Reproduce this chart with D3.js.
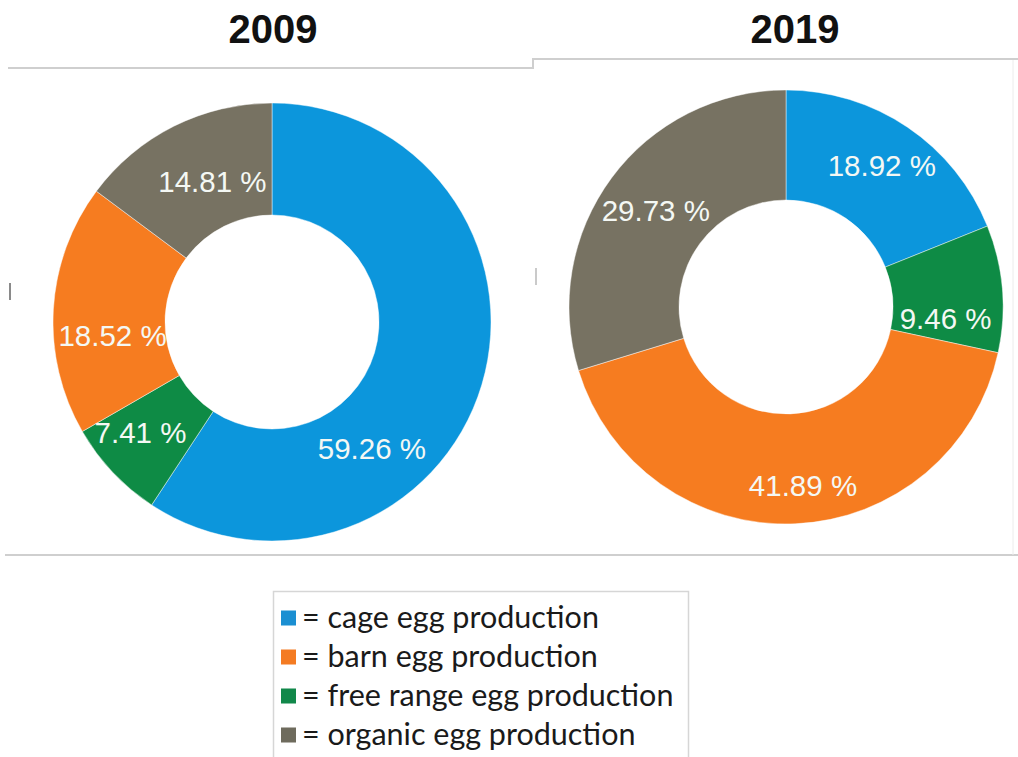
<!DOCTYPE html>
<html>
<head>
<meta charset="utf-8">
<script src="https://cdn.jsdelivr.net/npm/d3@7/dist/d3.min.js"></script>
<style>
  html, body { margin: 0; padding: 0; background: #ffffff; }
  svg { display: block; }
</style>
</head>
<body>
<svg id="chart" width="1018" height="757"></svg>
<script>
// Egg production shares by method, 2009 vs 2019
const categories = ["cage egg production", "free range egg production", "barn egg production", "organic egg production"];
const years = ["2009", "2019"];
const values2009 = [59.26, 7.41, 18.52, 14.81];
const values2019 = [18.92, 9.46, 41.89, 29.73];
const legendOrder = ["cage egg production", "barn egg production", "free range egg production", "organic egg production"];

// where each label sits inside its slice: fraction of the slice's sweep, and distance from centre
const labelFrac2009 = [0.664, 0.62, 0.38, 0.57];
const labelDist2009 = [161, 172, 160, 153];
const labelFrac2019 = [0.5, 0.76, 0.48, 0.5];
const labelDist2019 = [171, 160, 179, 162];

const sliceColor = d3.scaleOrdinal()
  .domain(categories)
  .range(["#0c96dc", "#0e8b45", "#f67c20", "#777262"]);
const keyColor = d3.scaleOrdinal()
  .domain(categories)
  .range(["#1b8fd2", "#11884a", "#f47b22", "#6e6b5d"]);

const svg = d3.select("#chart");

// panel frame lines
const frame = svg.append("g").attr("fill", "none").attr("stroke", "#cfcfcf").attr("stroke-width", 2);
frame.append("path").attr("d", "M8,68 H533 V59 H1018");
frame.append("path").attr("d", "M5,555 H1018");
frame.append("path").attr("d", "M1013,60 V555").attr("stroke", "#ececec").attr("stroke-width", 1);
svg.append("path").attr("d", "M10,283 V300").attr("stroke", "#8a8a8a").attr("stroke-width", 2);
svg.append("path").attr("d", "M536,268 V285").attr("stroke", "#b8b8b8").attr("stroke-width", 1.5);

const donuts = [
  { year: years[0], values: values2009, frac: labelFrac2009, dist: labelDist2009, cx: 272, cy: 322, r: 219, titleX: 273 },
  { year: years[1], values: values2019, frac: labelFrac2019, dist: labelDist2019, cx: 786, cy: 307, r: 217, titleX: 795 }
];

const pie = d3.pie().sort(null).value(d => d.value);

donuts.forEach(cfg => {
  const arc = d3.arc().innerRadius(107).outerRadius(cfg.r);

  svg.append("text")
    .attr("x", cfg.titleX)
    .attr("y", 43)
    .attr("text-anchor", "middle")
    .attr("font-family", "'Liberation Sans', Arial, sans-serif")
    .attr("font-weight", "bold")
    .attr("font-size", 40)
    .attr("fill", "#111")
    .text(cfg.year);

  const data = categories.map((c, i) => ({ name: c, value: cfg.values[i], frac: cfg.frac[i], dist: cfg.dist[i] }));
  const g = svg.append("g").attr("transform", `translate(${cfg.cx},${cfg.cy})`);

  const slices = pie(data);
  g.selectAll("path.slice")
    .data(slices)
    .join("path")
    .attr("class", "slice")
    .attr("d", arc)
    .attr("fill", d => sliceColor(d.data.name))
    .attr("stroke", "rgba(255,255,255,0.45)")
    .attr("stroke-width", 1);

  g.selectAll("text.value")
    .data(slices)
    .join("text")
    .attr("class", "value")
    .attr("transform", d => {
      const a = d.startAngle + (d.endAngle - d.startAngle) * d.data.frac;
      return `translate(${Math.sin(a) * d.data.dist},${-Math.cos(a) * d.data.dist})`;
    })
    .attr("text-anchor", "middle")
    .attr("dy", "0.36em")
    .attr("font-family", "'Liberation Sans', Arial, sans-serif")
    .attr("font-size", 29.5)
    .attr("fill", "#f4f8f4")
    .text(d => d.data.value.toFixed(2) + " %");
});

// legend
const legend = svg.append("g");
legend.append("rect")
  .attr("x", 273.5).attr("y", 591.5)
  .attr("width", 415).attr("height", 180)
  .attr("fill", "#fff")
  .attr("stroke", "#d6d6d6")
  .attr("stroke-width", 1.5);

const rowY = d3.scalePoint().domain(legendOrder).range([618, 735]);
const rows = legend.selectAll("g.row")
  .data(legendOrder)
  .join("g")
  .attr("class", "row")
  .attr("transform", d => `translate(281,${rowY(d)})`);
rows.append("rect")
  .attr("x", 0).attr("y", -7.5)
  .attr("width", 15).attr("height", 15)
  .attr("fill", d => keyColor(d));
rows.append("text")
  .attr("x", 21)
  .attr("dy", "0.34em")
  .attr("font-family", "Lato, 'Open Sans', sans-serif")
  .attr("font-size", 30.5)
  .attr("fill", "#1a1a1a")
  .text(d => "= " + d);
</script>
</body>
</html>
